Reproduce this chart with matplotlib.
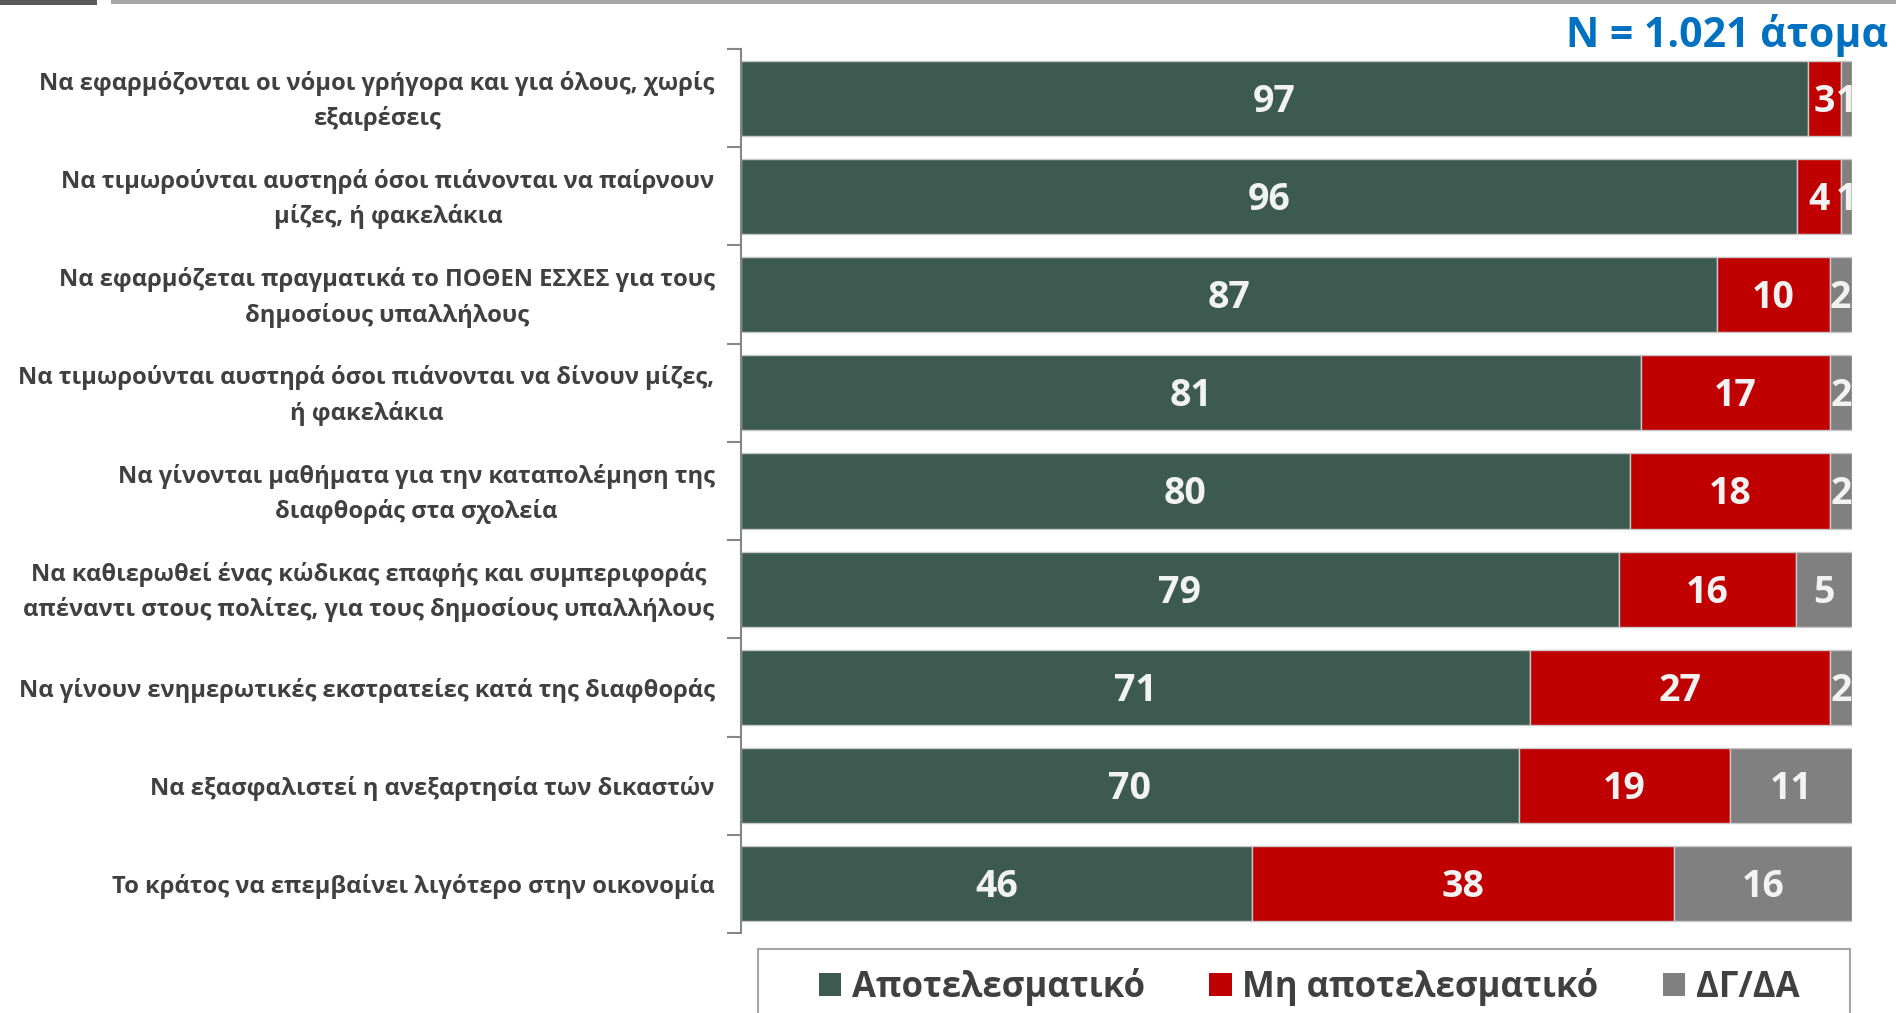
import matplotlib
matplotlib.use("Agg")
import matplotlib.pyplot as plt
from matplotlib.patches import Rectangle, Patch
import numpy as np

plt.rcParams['font.family'] = ['Open Sans', 'DejaVu Sans']

categories = [
    "Να εφαρμόζονται οι νόμοι γρήγορα και για όλους, χωρίς\nεξαιρέσεις",
    "Να τιμωρούνται αυστηρά όσοι πιάνονται να παίρνουν\nμίζες, ή φακελάκια",
    "Να εφαρμόζεται πραγματικά το ΠΟΘΕΝ ΕΣΧΕΣ για τους\nδημοσίους υπαλλήλους",
    "Να τιμωρούνται αυστηρά όσοι πιάνονται να δίνουν μίζες,\nή φακελάκια",
    "Να γίνονται μαθήματα για την καταπολέμηση της\nδιαφθοράς στα σχολεία",
    "Να καθιερωθεί ένας κώδικας επαφής και συμπεριφοράς\nαπέναντι στους πολίτες, για τους δημοσίους υπαλλήλους",
    "Να γίνουν ενημερωτικές εκστρατείες κατά της διαφθοράς",
    "Να εξασφαλιστεί η ανεξαρτησία των δικαστών",
    "Το κράτος να επεμβαίνει λιγότερο στην οικονομία",
]
effective = [97, 96, 87, 81, 80, 79, 71, 70, 46]
not_effective = [3, 4, 10, 17, 18, 16, 27, 19, 38]
dk_na = [1, 1, 2, 2, 2, 5, 2, 11, 16]
series_names = ["Αποτελεσματικό", "Μη αποτελεσματικό", "ΔΓ/ΔΑ"]
colors = ["#3C5A50", "#C00000", "#808080"]
title_text = "N = 1.021 άτομα"

W, H = 1896, 1013
fig = plt.figure(figsize=(W / 100, H / 100), dpi=100)
ax = fig.add_axes([741 / W, 1 - 933 / H, (1852 - 741) / W, (933 - 49) / H])

data = np.array([effective, not_effective, dk_na], dtype=float)
totals = data.sum(axis=0)
pct = data / totals * 100
y = np.arange(len(categories))
left = np.zeros(len(categories))
for i in range(3):
    ax.barh(y, pct[i], left=left, height=0.765, color=colors[i],
            edgecolor="#c8c8c8", linewidth=1.0)
    for j in range(len(categories)):
        ax.annotate(str(int(data[i][j])), xy=(left[j] + pct[i][j] / 2, y[j]),
                    xytext=(0, -2.5), textcoords="offset points",
                    ha="center", va="center", color="#F2F2F2",
                    fontsize=27, fontweight="bold")
    left += pct[i]

ax.set_xlim(0, 100)
ax.set_ylim(len(categories) - 0.5, -0.5)
ax.set_yticks(y)
ax.set_yticklabels([])
ax.tick_params(axis="y", which="major", length=0)
for j, lab in enumerate(categories):
    ax.annotate(lab, xy=(0, y[j]), xycoords=("axes fraction", "data"),
                xytext=(-19, -2), textcoords="offset points",
                ha="right", va="center", multialignment="center", linespacing=1.55,
                fontsize=17.1, fontweight="bold", color="#404040", annotation_clip=False)
ax.set_yticks(np.arange(-0.5, len(categories), 1.0), minor=True)
ax.tick_params(axis="y", which="minor", length=10, width=1.5, color="#868686")
ax.set_xticks([])
for s in ["top", "right", "bottom"]:
    ax.spines[s].set_visible(False)
ax.spines["left"].set_color("#868686")
ax.spines["left"].set_linewidth(1.5)

fig.text(1888 / W, 1 - 47 / H, title_text, ha="right", va="baseline",
         color="#0070C0", fontsize=29.5, fontweight="bold")

# top decoration lines
fig.patches.append(Rectangle((0, 1 - 5 / H), 97 / W, 5 / H, transform=fig.transFigure,
                             facecolor="#595959", edgecolor="none"))
fig.patches.append(Rectangle((111 / W, 1 - 4 / H), 1 - 111 / W, 4 / H, transform=fig.transFigure,
                             facecolor="#a6a6a6", edgecolor="none"))
# legend frame
fig.patches.append(Rectangle((758 / W, -0.05), (1850 - 758) / W, 0.05 + 1 - 949 / H,
                             transform=fig.transFigure, facecolor="white",
                             edgecolor="#a6a6a6", linewidth=1.5))

handles = [Patch(facecolor=c, edgecolor="none") for c in colors]
leg = fig.legend(handles, series_names, loc="center", bbox_to_anchor=(1309 / W, 1 - 987 / H),
                 ncol=3, frameon=False, fontsize=25, handlelength=0.65, handleheight=0.65,
                 handletextpad=0.3, columnspacing=1.86)
for t in leg.get_texts():
    t.set_color("#404040")
    t.set_fontweight("bold")

fig.savefig("out.png", dpi=100)
